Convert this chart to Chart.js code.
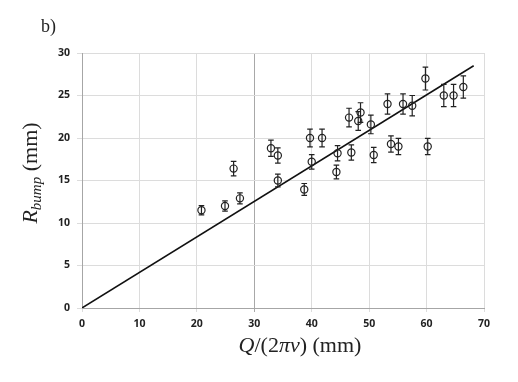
<!DOCTYPE html>
<html>
<head>
<meta charset="utf-8">
<script src="https://cdn.jsdelivr.net/npm/chart.js@4.4.0/dist/chart.umd.min.js"></script>
<style>
  html, body { margin: 0; padding: 0; background: #fff; }
  #wrap { width: 518px; height: 382px; position: relative; }
</style>
</head>
<body>
<div id="wrap"><canvas id="chart"></canvas></div>
<script>
// Measured points: Q/(2 pi nu) in mm, R_bump in mm, and error half-widths
const qValues = [20.8, 24.9, 26.4, 27.5, 32.9, 34.1, 34.1, 38.7, 39.7, 40.0,
                 41.8, 44.3, 44.5, 46.5, 46.9, 48.1, 48.5, 50.3, 50.8, 53.2,
                 53.8, 55.1, 55.9, 57.5, 59.8, 60.2, 63.0, 64.7, 66.4];
const rValues = [11.5, 12.0, 16.4, 12.9, 18.8, 17.95, 15.0, 13.95, 20.0, 17.2,
                 20.0, 16.0, 18.2, 22.4, 18.3, 22.0, 23.0, 21.6, 18.0, 24.0,
                 19.3, 19.0, 24.0, 23.8, 27.0, 19.0, 25.0, 25.0, 26.0];
const rErrors = [0.55, 0.6, 0.85, 0.65, 0.95, 0.9, 0.75, 0.7, 1.05, 0.85,
                 1.05, 0.8, 0.9, 1.1, 0.9, 1.1, 1.15, 1.1, 0.9, 1.2,
                 0.95, 0.95, 1.2, 1.2, 1.35, 0.95, 1.3, 1.3, 1.3];

// Fitted line end points
const fitX = [0, 68.2];
const fitY = [0, 28.5];

// Axis ticks
const xTicks = [0, 10, 20, 30, 40, 50, 60, 70];
const yTicks = [0, 5, 10, 15, 20, 25, 30];

const points = qValues.map((q, i) => ({ x: q, y: rValues[i], err: rErrors[i] }));
const fitLine = fitX.map((x, i) => ({ x: x, y: fitY[i] }));

// Draw vertical error bars with caps
const errorBars = {
    id: 'errorBars',
    afterDatasetsDraw(chart) {
        const ctx = chart.ctx;
        const xs = chart.scales.x, ys = chart.scales.y;
        ctx.save();
        ctx.strokeStyle = '#222';
        ctx.lineWidth = 1.2;
        points.forEach(p => {
            const px = xs.getPixelForValue(p.x);
            const top = ys.getPixelForValue(p.y + p.err);
            const bot = ys.getPixelForValue(p.y - p.err);
            ctx.beginPath();
            ctx.moveTo(px, top); ctx.lineTo(px, bot);
            ctx.moveTo(px - 2.8, top); ctx.lineTo(px + 2.8, top);
            ctx.moveTo(px - 2.8, bot); ctx.lineTo(px + 2.8, bot);
            ctx.stroke();
        });
        ctx.restore();
    }
};

// Math-style titles (mixed italic / roman)
function drawRuns(ctx, runs, x, y) {
    let cx = x;
    runs.forEach(r => {
        ctx.font = r.font;
        ctx.fillText(r.t, cx, y + (r.dy || 0));
        cx += ctx.measureText(r.t).width;
    });
}
function runsWidth(ctx, runs) {
    let w = 0;
    runs.forEach(r => { ctx.font = r.font; w += ctx.measureText(r.t).width; });
    return w;
}

const titles = {
    id: 'titles',
    afterDraw(chart) {
        const ctx = chart.ctx;
        const serif = '"Liberation Serif", "DejaVu Serif", serif';
        ctx.save();
        ctx.fillStyle = '#222';
        ctx.textBaseline = 'alphabetic';
        ctx.textAlign = 'left';

        ctx.font = '18px ' + serif;
        ctx.fillText('b)', 41, 32);

        const xRuns = [
            { t: 'Q', font: 'italic 22px ' + serif },
            { t: '/(2', font: '22px ' + serif },
            { t: 'πν', font: 'italic 22px ' + serif },
            { t: ') (mm)', font: '22px ' + serif }
        ];
        const xw = runsWidth(ctx, xRuns);
        drawRuns(ctx, xRuns, 300 - xw / 2, 352);

        const yRuns = [
            { t: 'R', font: 'italic 22px ' + serif },
            { t: 'bump', font: 'italic 15px ' + serif, dy: 4 },
            { t: ' (mm)', font: '22px ' + serif }
        ];
        const yw = runsWidth(ctx, yRuns);
        ctx.translate(37, 173);
        ctx.rotate(-Math.PI / 2);
        drawRuns(ctx, yRuns, -yw / 2, 0);
        ctx.restore();
    }
};

const tickFont = { family: '"Open Sans", "DejaVu Sans", sans-serif', size: 10.5, weight: 'bold' };

new Chart(document.getElementById('chart'), {
    type: 'scatter',
    data: {
        datasets: [{
            label: 'data',
            data: points,
            pointStyle: 'circle',
            pointRadius: 3.6,
            pointBorderWidth: 1.2,
            pointBorderColor: '#222',
            pointBackgroundColor: 'rgba(0,0,0,0)'
        }, {
            label: 'fit',
            type: 'line',
            data: fitLine,
            borderColor: '#111',
            borderWidth: 1.5,
            pointRadius: 0,
            fill: false
        }]
    },
    options: {
        responsive: true,
        maintainAspectRatio: false,
        animation: false,
        layout: { padding: { left: 0, top: 53, right: 34, bottom: 0 } },
        plugins: {
            legend: { display: false },
            tooltip: { enabled: false }
        },
        scales: {
            x: {
                type: 'linear',
                min: 0,
                max: 70,
                afterFit: scale => { scale.height = 74; },
                afterBuildTicks: scale => { scale.ticks = xTicks.map(v => ({ value: v })); },
                grid: {
                    color: ctx => ctx.tick && ctx.tick.value === 30 ? '#a8a8a8' : '#dcdcdc',
                    lineWidth: 1,
                    tickLength: 4
                },
                border: { color: '#a6a6a6' },
                ticks: { font: tickFont, color: '#222', padding: 6 }
            },
            y: {
                type: 'linear',
                min: 0,
                max: 30,
                afterFit: scale => { scale.width = 82; },
                afterBuildTicks: scale => { scale.ticks = yTicks.map(v => ({ value: v })); },
                grid: { color: '#dcdcdc', lineWidth: 1, tickLength: 5 },
                border: { color: '#a6a6a6' },
                ticks: { font: tickFont, color: '#222', padding: 7 }
            }
        }
    },
    plugins: [errorBars, titles]
});
</script>
</body>
</html>
